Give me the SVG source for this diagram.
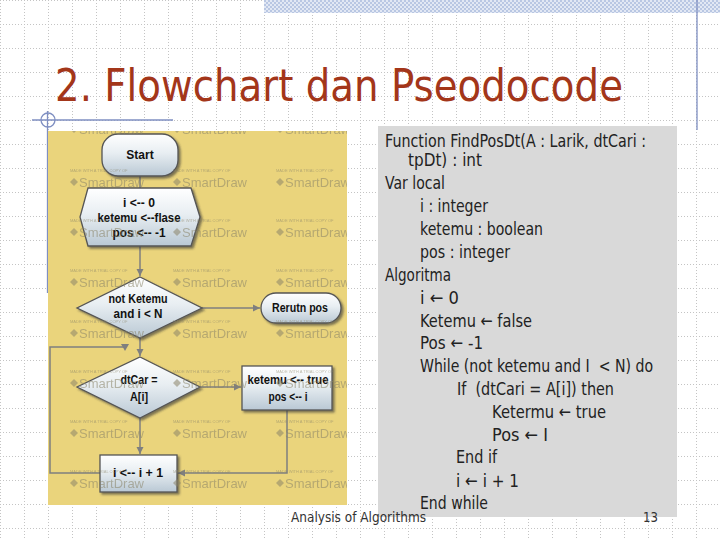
<svg xmlns="http://www.w3.org/2000/svg" width="720" height="540" viewBox="0 0 720 540">
<defs>
<pattern id="grid" patternUnits="userSpaceOnUse" width="24" height="24">
<line x1="0" y1="0.5" x2="24" y2="0.5" stroke="#c4c4c4" stroke-width="1" stroke-dasharray="1 2"/>
<line x1="0.5" y1="0" x2="0.5" y2="24" stroke="#c4c4c4" stroke-width="1" stroke-dasharray="1 2"/>
</pattern>
<pattern id="check" patternUnits="userSpaceOnUse" width="4" height="4">
<rect width="4" height="4" fill="#e2e8f4"/>
<rect width="2" height="2" fill="#b9c7e3"/>
<rect x="2" y="2" width="2" height="2" fill="#b9c7e3"/>
</pattern>
<linearGradient id="shapeFill" x1="0" y1="0" x2="0" y2="1">
<stop offset="0" stop-color="#ffffff"/>
<stop offset="0.45" stop-color="#e8eef2"/>
<stop offset="1" stop-color="#b9c8d4"/>
</linearGradient>
<filter id="shadow" x="-20%" y="-20%" width="150%" height="150%">
<feDropShadow dx="2" dy="2" stdDeviation="1" flood-color="#333" flood-opacity="0.6"/>
</filter>
<marker id="arrow" markerWidth="8" markerHeight="8" refX="7" refY="4" orient="auto" markerUnits="userSpaceOnUse">
<path d="M0,0.5 L7,4 L0,7.5 Z" fill="#7f7f7f"/>
</marker>
<clipPath id="yclip"><rect x="48" y="131" width="299" height="374"/></clipPath>
<style>
.shape{fill:url(#shapeFill);stroke:#555;stroke-width:1.3;filter:url(#shadow)}
.lbl{font-family:"Liberation Sans",Arial,sans-serif;font-weight:bold;font-size:12px;fill:#111;text-anchor:middle}
.conn{fill:none;stroke:#7f7f7f;stroke-width:1.5}
.code{font-family:"DejaVu Sans",Verdana,sans-serif;font-size:18px;fill:#222;white-space:pre}
.wm1{font-family:"Liberation Sans",Arial,sans-serif;font-size:13px;fill:#8a8468;opacity:0.55}
.wm2{font-family:"Liberation Sans",Arial,sans-serif;font-size:4px;fill:#8a8468;opacity:0.55}
.wmi{fill:#8a8468;opacity:0.55}
.deco{stroke:#7f8fc2;stroke-width:1.3;fill:none}
</style>
</defs>

<!-- background -->
<rect width="720" height="540" fill="#ffffff"/>
<rect width="720" height="540" fill="url(#grid)"/>
<rect x="264" y="0" width="456" height="13" fill="url(#check)"/>
<line class="deco" x1="697" y1="0" x2="697" y2="130"/>

<!-- title -->
<text x="55" y="101" font-family="DejaVu Sans, Verdana, sans-serif" font-size="44" fill="#a3361a" textLength="568" lengthAdjust="spacingAndGlyphs">2. Flowchart dan Pseodocode</text>

<!-- decoration -->
<line class="deco" x1="32" y1="120" x2="173" y2="120"/>
<circle class="deco" cx="48" cy="120" r="7"/>
<line class="deco" x1="47.5" y1="111" x2="47.5" y2="293"/>

<!-- flowchart panel -->
<rect x="48" y="131" width="299" height="374" fill="#ead47c"/>

<g id="connectors">
<line class="conn" x1="140" y1="176" x2="140" y2="188"/>
<line class="conn" x1="140" y1="246" x2="140" y2="276" marker-end="url(#arrow)"/>
<line class="conn" x1="202" y1="308" x2="260" y2="308" marker-end="url(#arrow)"/>
<line class="conn" x1="140" y1="338" x2="140" y2="356" marker-end="url(#arrow)"/>
<line class="conn" x1="200" y1="387" x2="241" y2="387" marker-end="url(#arrow)"/>
<line class="conn" x1="140" y1="418" x2="140" y2="454" marker-end="url(#arrow)"/>
<polyline class="conn" points="287,410 287,473 178,473" marker-end="url(#arrow)"/>
<polyline class="conn" points="100,473 50,473 50,347 126,347"/>
<path d="M121,344 L129,344 L125,351 Z" fill="#7f7f7f"/>
</g>

<g id="start">
<rect class="shape" x="102" y="134" width="76" height="42" rx="16"/>
<text class="lbl" x="140" y="159">Start</text>
</g>

<g id="init">
<polygon class="shape" points="88,188 191,188 200,217 191,246 88,246 80,217"/>
<text class="lbl" x="139" y="207" textLength="32" lengthAdjust="spacingAndGlyphs">i &lt;-- 0</text>
<text class="lbl" x="139" y="222" textLength="83" lengthAdjust="spacingAndGlyphs">ketemu &lt;--flase</text>
<text class="lbl" x="139" y="237" textLength="53" lengthAdjust="spacingAndGlyphs">pos &lt;-- -1</text>
</g>

<g id="cond1">
<polygon class="shape" points="140,277 202,308 140,338 77,308"/>
<text class="lbl" x="138" y="303" textLength="59" lengthAdjust="spacingAndGlyphs">not Ketemu</text>
<text class="lbl" x="138" y="318" textLength="49" lengthAdjust="spacingAndGlyphs">and i &lt; N</text>
</g>

<g id="return">
<rect class="shape" x="261" y="293" width="80" height="30" rx="15"/>
<text class="lbl" x="300" y="312" textLength="56" lengthAdjust="spacingAndGlyphs">Rerutn pos</text>
</g>

<g id="cond2">
<polygon class="shape" points="140,357 200,387 140,418 77,387"/>
<text class="lbl" x="139" y="384" textLength="37" lengthAdjust="spacingAndGlyphs">dtCar =</text>
<text class="lbl" x="139" y="401" textLength="18" lengthAdjust="spacingAndGlyphs">A[i]</text>
</g>

<g id="found">
<rect class="shape" x="242" y="366" width="90" height="44"/>
<text class="lbl" x="288" y="384" textLength="81" lengthAdjust="spacingAndGlyphs">ketemu &lt;-- true</text>
<text class="lbl" x="288" y="401" textLength="39" lengthAdjust="spacingAndGlyphs">pos &lt;-- i</text>
</g>

<g id="incr">
<rect class="shape" x="100" y="455" width="77" height="37"/>
<text class="lbl" x="138" y="477" textLength="50" lengthAdjust="spacingAndGlyphs">i &lt;-- i + 1</text>
</g>

<!-- watermarks -->
<g clip-path="url(#yclip)">
<g id="wm">
<g transform="translate(70,134)"><path class="wmi" d="M4,-9 L8,-5 L4,-1 L0,-5 Z"/><text class="wm2" x="0" y="-15">MADE WITH A TRIAL COPY OF</text><text class="wm1" x="9" y="0">SmartDraw</text></g>
<g transform="translate(173,134)"><path class="wmi" d="M4,-9 L8,-5 L4,-1 L0,-5 Z"/><text class="wm2" x="0" y="-15">MADE WITH A TRIAL COPY OF</text><text class="wm1" x="9" y="0">SmartDraw</text></g>
<g transform="translate(276,134)"><path class="wmi" d="M4,-9 L8,-5 L4,-1 L0,-5 Z"/><text class="wm2" x="0" y="-15">MADE WITH A TRIAL COPY OF</text><text class="wm1" x="9" y="0">SmartDraw</text></g>
<g transform="translate(70,187)"><path class="wmi" d="M4,-9 L8,-5 L4,-1 L0,-5 Z"/><text class="wm2" x="0" y="-15">MADE WITH A TRIAL COPY OF</text><text class="wm1" x="9" y="0">SmartDraw</text></g>
<g transform="translate(173,187)"><path class="wmi" d="M4,-9 L8,-5 L4,-1 L0,-5 Z"/><text class="wm2" x="0" y="-15">MADE WITH A TRIAL COPY OF</text><text class="wm1" x="9" y="0">SmartDraw</text></g>
<g transform="translate(276,187)"><path class="wmi" d="M4,-9 L8,-5 L4,-1 L0,-5 Z"/><text class="wm2" x="0" y="-15">MADE WITH A TRIAL COPY OF</text><text class="wm1" x="9" y="0">SmartDraw</text></g>
<g transform="translate(70,237)"><path class="wmi" d="M4,-9 L8,-5 L4,-1 L0,-5 Z"/><text class="wm2" x="0" y="-15">MADE WITH A TRIAL COPY OF</text><text class="wm1" x="9" y="0">SmartDraw</text></g>
<g transform="translate(173,237)"><path class="wmi" d="M4,-9 L8,-5 L4,-1 L0,-5 Z"/><text class="wm2" x="0" y="-15">MADE WITH A TRIAL COPY OF</text><text class="wm1" x="9" y="0">SmartDraw</text></g>
<g transform="translate(276,237)"><path class="wmi" d="M4,-9 L8,-5 L4,-1 L0,-5 Z"/><text class="wm2" x="0" y="-15">MADE WITH A TRIAL COPY OF</text><text class="wm1" x="9" y="0">SmartDraw</text></g>
<g transform="translate(70,287)"><path class="wmi" d="M4,-9 L8,-5 L4,-1 L0,-5 Z"/><text class="wm2" x="0" y="-15">MADE WITH A TRIAL COPY OF</text><text class="wm1" x="9" y="0">SmartDraw</text></g>
<g transform="translate(173,287)"><path class="wmi" d="M4,-9 L8,-5 L4,-1 L0,-5 Z"/><text class="wm2" x="0" y="-15">MADE WITH A TRIAL COPY OF</text><text class="wm1" x="9" y="0">SmartDraw</text></g>
<g transform="translate(276,287)"><path class="wmi" d="M4,-9 L8,-5 L4,-1 L0,-5 Z"/><text class="wm2" x="0" y="-15">MADE WITH A TRIAL COPY OF</text><text class="wm1" x="9" y="0">SmartDraw</text></g>
<g transform="translate(70,338)"><path class="wmi" d="M4,-9 L8,-5 L4,-1 L0,-5 Z"/><text class="wm2" x="0" y="-15">MADE WITH A TRIAL COPY OF</text><text class="wm1" x="9" y="0">SmartDraw</text></g>
<g transform="translate(173,338)"><path class="wmi" d="M4,-9 L8,-5 L4,-1 L0,-5 Z"/><text class="wm2" x="0" y="-15">MADE WITH A TRIAL COPY OF</text><text class="wm1" x="9" y="0">SmartDraw</text></g>
<g transform="translate(276,338)"><path class="wmi" d="M4,-9 L8,-5 L4,-1 L0,-5 Z"/><text class="wm2" x="0" y="-15">MADE WITH A TRIAL COPY OF</text><text class="wm1" x="9" y="0">SmartDraw</text></g>
<g transform="translate(70,388)"><path class="wmi" d="M4,-9 L8,-5 L4,-1 L0,-5 Z"/><text class="wm2" x="0" y="-15">MADE WITH A TRIAL COPY OF</text><text class="wm1" x="9" y="0">SmartDraw</text></g>
<g transform="translate(173,388)"><path class="wmi" d="M4,-9 L8,-5 L4,-1 L0,-5 Z"/><text class="wm2" x="0" y="-15">MADE WITH A TRIAL COPY OF</text><text class="wm1" x="9" y="0">SmartDraw</text></g>
<g transform="translate(276,388)"><path class="wmi" d="M4,-9 L8,-5 L4,-1 L0,-5 Z"/><text class="wm2" x="0" y="-15">MADE WITH A TRIAL COPY OF</text><text class="wm1" x="9" y="0">SmartDraw</text></g>
<g transform="translate(70,438)"><path class="wmi" d="M4,-9 L8,-5 L4,-1 L0,-5 Z"/><text class="wm2" x="0" y="-15">MADE WITH A TRIAL COPY OF</text><text class="wm1" x="9" y="0">SmartDraw</text></g>
<g transform="translate(173,438)"><path class="wmi" d="M4,-9 L8,-5 L4,-1 L0,-5 Z"/><text class="wm2" x="0" y="-15">MADE WITH A TRIAL COPY OF</text><text class="wm1" x="9" y="0">SmartDraw</text></g>
<g transform="translate(276,438)"><path class="wmi" d="M4,-9 L8,-5 L4,-1 L0,-5 Z"/><text class="wm2" x="0" y="-15">MADE WITH A TRIAL COPY OF</text><text class="wm1" x="9" y="0">SmartDraw</text></g>
<g transform="translate(70,488)"><path class="wmi" d="M4,-9 L8,-5 L4,-1 L0,-5 Z"/><text class="wm2" x="0" y="-15">MADE WITH A TRIAL COPY OF</text><text class="wm1" x="9" y="0">SmartDraw</text></g>
<g transform="translate(173,488)"><path class="wmi" d="M4,-9 L8,-5 L4,-1 L0,-5 Z"/><text class="wm2" x="0" y="-15">MADE WITH A TRIAL COPY OF</text><text class="wm1" x="9" y="0">SmartDraw</text></g>
<g transform="translate(276,488)"><path class="wmi" d="M4,-9 L8,-5 L4,-1 L0,-5 Z"/><text class="wm2" x="0" y="-15">MADE WITH A TRIAL COPY OF</text><text class="wm1" x="9" y="0">SmartDraw</text></g>
</g>
</g>

<!-- pseudocode panel -->
<g id="pseudocode">
<rect x="378" y="126" width="299" height="391" fill="#d9d9d9"/>
<text class="code" x="385" y="147" textLength="261" lengthAdjust="spacingAndGlyphs">Function FindPosDt(A : Larik, dtCari :</text>
<text class="code" x="408" y="166" textLength="74" lengthAdjust="spacingAndGlyphs">tpDt) : int</text>
<text class="code" x="385" y="189" textLength="60" lengthAdjust="spacingAndGlyphs">Var local</text>
<text class="code" x="420" y="212" textLength="68" lengthAdjust="spacingAndGlyphs">i : integer</text>
<text class="code" x="420" y="235" textLength="123" lengthAdjust="spacingAndGlyphs">ketemu : boolean</text>
<text class="code" x="420" y="258" textLength="90" lengthAdjust="spacingAndGlyphs">pos : integer</text>
<text class="code" x="385" y="281" textLength="66" lengthAdjust="spacingAndGlyphs">Algoritma</text>
<text class="code" x="420" y="304" textLength="39" lengthAdjust="spacingAndGlyphs">i ← 0</text>
<text class="code" x="420" y="327" textLength="112" lengthAdjust="spacingAndGlyphs">Ketemu ← false</text>
<text class="code" x="420" y="349" textLength="63" lengthAdjust="spacingAndGlyphs">Pos ← -1</text>
<text class="code" x="420" y="372" textLength="233" lengthAdjust="spacingAndGlyphs">While (not ketemu and I  &lt; N) do</text>
<text class="code" x="457" y="395" textLength="157" lengthAdjust="spacingAndGlyphs">If  (dtCari = A[i]) then</text>
<text class="code" x="492" y="418" textLength="114" lengthAdjust="spacingAndGlyphs">Ketermu ← true</text>
<text class="code" x="492" y="441" textLength="56" lengthAdjust="spacingAndGlyphs">Pos ← I</text>
<text class="code" x="456" y="463" textLength="41" lengthAdjust="spacingAndGlyphs">End if</text>
<text class="code" x="456" y="487" textLength="63" lengthAdjust="spacingAndGlyphs">i ← i + 1</text>
<text class="code" x="420" y="509" textLength="68" lengthAdjust="spacingAndGlyphs">End while</text>
</g>

<!-- footer -->
<text x="291" y="522" font-family="DejaVu Sans, Verdana, sans-serif" font-size="14" fill="#333" textLength="135" lengthAdjust="spacingAndGlyphs">Analysis of Algorithms</text>
<text x="643" y="522" font-family="DejaVu Sans, Verdana, sans-serif" font-size="14" fill="#333" textLength="15" lengthAdjust="spacingAndGlyphs">13</text>
</svg>
